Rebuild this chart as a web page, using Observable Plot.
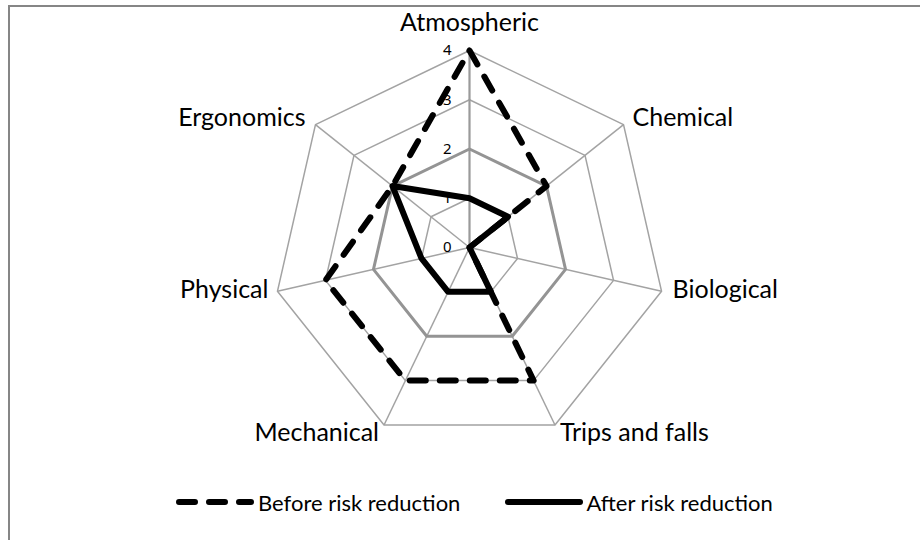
<!DOCTYPE html>
<html>
<head>
<meta charset="utf-8">
<script src="https://cdn.jsdelivr.net/npm/d3@7"></script>
<script src="https://cdn.jsdelivr.net/npm/@observablehq/plot@0.6"></script>
<style>
  html, body { margin: 0; padding: 0; background: #fff; }
  #wrap { position: relative; width: 920px; height: 540px; overflow: hidden; font-family: Lato, "Open Sans", sans-serif; }
  #frame { position: absolute; left: 8px; top: 5px; width: 1000px; height: 1000px;
           border-top: 2px solid #868686; border-left: 2px solid #868686; pointer-events: none; }
  #chart svg { display: block; }
  #legend { display: flex; align-items: center; height: 64px; padding-left: 176px; font-size: 22px; color: #000; }
  .item { display: flex; align-items: center; }
  .item svg { display: block; }
</style>
</head>
<body>
<div id="wrap">
  <div id="chart"></div>
  <div id="legend"></div>
  <div id="frame"></div>
</div>
<script>
const categories = ["Atmospheric", "Chemical", "Biological", "Trips and falls", "Mechanical", "Physical", "Ergonomics"];
const before = [4, 2, 0, 3, 3, 3, 2];
const after = [1, 1, 0, 1, 1, 1, 2];
const ticks = [0, 1, 2, 3, 4];
const seriesNames = ["Before risk reduction", "After risk reduction"];

const n = categories.length;
const maxV = d3.max(ticks);
const ang = i => i * 2 * Math.PI / n;
const px = (v, i) => v * Math.sin(ang(i));
const py = (v, i) => v * Math.cos(ang(i));

const rows = (vals) => categories.map((c, i) => ({c, i, v: vals[i], x: px(vals[i], i), y: py(vals[i], i)}));
const beforeRows = rows(before);
const afterRows = rows(after);

const rings = ticks.filter(t => t > 0).flatMap(t =>
  categories.map((c, i) => ({level: t, x: px(t, i), y: py(t, i)})));
const spokes = categories.map((c, i) => ({c, i, x: px(maxV, i), y: py(maxV, i), s: Math.sin(ang(i)), co: Math.cos(ang(i))}));

const W = 920, H = 470, cx = 469, cy = 247, k = 49.25;
const DASH = "16,14";

const labelFont = {fontSize: 25, fill: "#000", fontFamily: "Lato, 'Open Sans', sans-serif"};

const chart = Plot.plot({
  width: W, height: H, margin: 0,
  x: {domain: [-cx / k, (W - cx) / k], axis: null},
  y: {domain: [-(H - cy) / k, cy / k], axis: null},
  marks: [
    Plot.line(rings.filter(d => d.level !== 2), {x: "x", y: "y", z: "level", curve: "linear-closed", stroke: "#a3a3a3", strokeWidth: 1.5}),
    Plot.link(spokes.filter(d => d.i !== 0), {x1: () => 0, y1: () => 0, x2: "x", y2: "y", stroke: "#a3a3a3", strokeWidth: 1.5}),
    Plot.link(spokes.filter(d => d.i === 0), {x1: () => 0, y1: () => 0, x2: "x", y2: "y", stroke: "#9a9a9a", strokeWidth: 2.2}),
    Plot.line(rings.filter(d => d.level === 2), {x: "x", y: "y", curve: "linear-closed", stroke: "#949494", strokeWidth: 3}),
    Plot.text(ticks, {x: () => 0, y: d => d, text: d => String(d), textAnchor: "end", dx: -18, fontSize: 15, fill: "#000"}),
    Plot.line(beforeRows, {x: "x", y: "y", curve: "linear-closed", stroke: "#000", strokeWidth: 6, strokeDasharray: DASH, strokeLinecap: "round", strokeLinejoin: "round"}),
    Plot.line(afterRows, {x: "x", y: "y", curve: "linear-closed", stroke: "#000", strokeWidth: 6, strokeLinejoin: "round"}),
    // category labels
    Plot.text(spokes.filter(d => d.i === 0), {x: "x", y: "y", text: "c", textAnchor: "middle", dy: -28, ...labelFont}),
    Plot.text(spokes.filter(d => d.s > 0.1 && d.co > 0.5), {x: "x", y: "y", text: "c", textAnchor: "start", dx: 9, dy: -7, ...labelFont}),
    Plot.text(spokes.filter(d => d.s > 0.1 && d.co <= 0.5 && d.co > -0.5), {x: "x", y: "y", text: "c", textAnchor: "start", dx: 11, dy: -1, ...labelFont}),
    Plot.text(spokes.filter(d => d.s < -0.1 && d.co > 0.5), {x: "x", y: "y", text: "c", textAnchor: "end", dx: -10, dy: -7, ...labelFont}),
    Plot.text(spokes.filter(d => d.s < -0.1 && d.co <= 0.5 && d.co > -0.5), {x: "x", y: "y", text: "c", textAnchor: "end", dx: -9, dy: -1, ...labelFont}),
    Plot.text(spokes.filter(d => d.s > 0.1 && d.co <= -0.5), {x: "x", y: "y", text: "c", textAnchor: "start", dx: 5, dy: 8, ...labelFont}),
    Plot.text(spokes.filter(d => d.s < -0.1 && d.co <= -0.5), {x: "x", y: "y", text: "c", textAnchor: "end", dx: -5, dy: 8, ...labelFont})
  ]
});
document.getElementById("chart").appendChild(chart);

// legend
const legend = d3.select("#legend");
const styles = [
  {dash: DASH, len: 78, after: 4, margin: 45},
  {dash: null, len: 78, after: 3, margin: 0}
];
seriesNames.forEach((name, j) => {
  const st = styles[j];
  const it = legend.append("div").attr("class", "item").style("margin-right", st.margin + "px");
  const s = it.append("svg").attr("width", st.len).attr("height", 14).style("margin-right", st.after + "px");
  const ln = s.append("line").attr("x1", 3).attr("x2", st.len - 3).attr("y1", 7).attr("y2", 7)
    .attr("stroke", "#000").attr("stroke-width", 6).attr("stroke-linecap", "round");
  if (st.dash) ln.attr("stroke-dasharray", st.dash);
  it.append("span").text(name);
});
</script>
</body>
</html>
